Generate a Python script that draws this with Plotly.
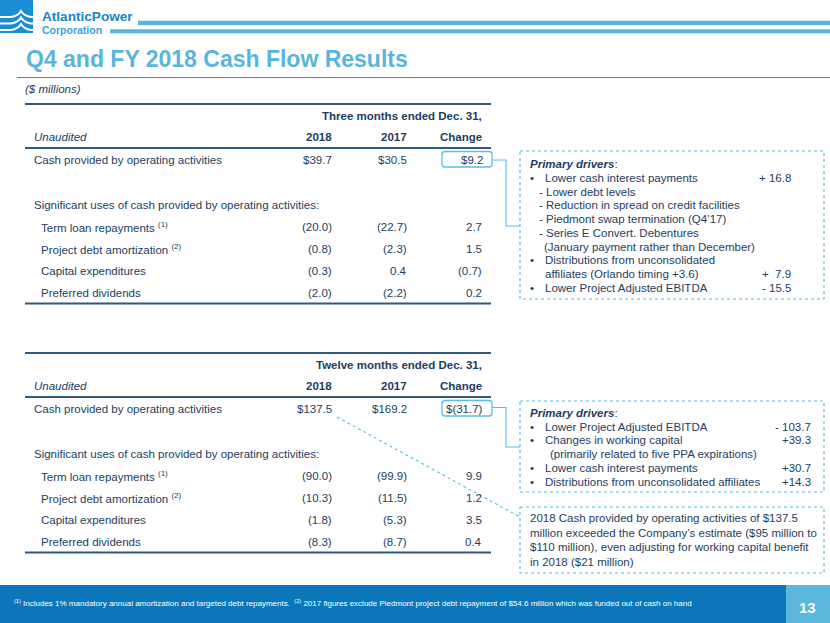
import plotly.graph_objects as go

W, H = 830, 623

# ---------------- data ----------------
company_line1 = "AtlanticPower"
company_line2 = "Corporation"
title = "Q4 and FY 2018 Cash Flow Results"
unit_note = "($ millions)"
page_number = "13"

col_headers = ["2018", "2017", "Change"]
cash_label = "Cash provided by operating activities"
uses_label = "Significant uses of cash provided by operating activities:"
row_labels = ["Term loan repayments", "Project debt amortization", "Capital expenditures", "Preferred dividends"]
row_notes = ["(1)", "(2)", "", ""]

q4_header = "Three months ended Dec. 31,"
q4_cash = [39.7, 30.5, 9.2]
q4_2018 = [-20.0, -0.8, -0.3, -2.0]
q4_2017 = [-22.7, -2.3, 0.4, -2.2]
q4_change = [2.7, 1.5, -0.7, 0.2]

fy_header = "Twelve months ended Dec. 31,"
fy_cash = [137.5, 169.2, -31.7]
fy_2018 = [-90.0, -10.3, -1.8, -8.3]
fy_2017 = [-99.9, -11.5, -5.3, -8.7]
fy_change = [9.9, 1.2, 3.5, 0.4]

q4_driver_text = [
    "Lower cash interest payments",
    "- Lower debt levels",
    "- Reduction in spread on credit facilities",
    "- Piedmont swap termination (Q4’17)",
    "- Series E Convert. Debentures",
    "(January payment rather than December)",
    "Distributions from unconsolidated",
    "affiliates (Orlando timing +3.6)",
    "Lower Project Adjusted EBITDA",
]
q4_driver_kind = ["bullet", "sub", "sub", "sub", "sub", "subcont", "bullet", "cont", "bullet"]
q4_driver_value = ["+ 16.8", "", "", "", "", "", "", "+  7.9", "- 15.5"]

fy_driver_text = [
    "Lower Project Adjusted EBITDA",
    "Changes in working capital",
    "(primarily related to five PPA expirations)",
    "Lower cash interest payments",
    "Distributions from unconsolidated affiliates",
]
fy_driver_kind = ["bullet", "bullet", "cont2", "bullet", "bullet"]
fy_driver_value = ["- 103.7", "+39.3", "", "+30.7", "+14.3"]

fy_note_lines = [
    "2018 Cash provided by operating activities of $137.5",
    "million exceeded the Company’s estimate ($95 million to",
    "$110 million), even adjusting for working capital benefit",
    "in 2018 ($21 million)",
]

footnote = ("<sup>(1)</sup> Includes 1% mandatory annual amortization and targeted debt repayments.  "
            "<sup>(2)</sup> 2017 figures exclude Piedmont project debt repayment of $54.6 million "
            "which was funded out of cash on hand")

# ---------------- style ----------------
FONT = "Liberation Sans, Arial, sans-serif"
TXT = "#1d3d5e"
RULE = "#2f5a7e"
LIGHT = "#5bbde5"
TITLE_C = "#5ab5dc"

fig = go.Figure()
fig.add_trace(go.Scatter(x=[0, W], y=[0, H], mode="markers", marker=dict(opacity=0), hoverinfo="skip", showlegend=False))

ann = []
shapes = []


def text(x, y, s, size=11.5, color=TXT, anchor="left", bold=False, italic=False, family=FONT):
    if italic:
        s = f"<i>{s}</i>"
    if bold:
        s = f"<b>{s}</b>"
    ann.append(dict(x=x, y=y, xref="x", yref="y", text=s, showarrow=False, xanchor=anchor,
                    yanchor="middle", font=dict(family=family, size=size, color=color), borderpad=0))


def line(x0, y0, x1, y1, color, width, dash="solid"):
    shapes.append(dict(type="line", xref="x", yref="y", x0=x0, y0=y0, x1=x1, y1=y1,
                       line=dict(color=color, width=width, dash=dash)))


def rect(x0, y0, x1, y1, fill, linec=None, width=0, dash="solid"):
    shapes.append(dict(type="rect", xref="x", yref="y", x0=x0, y0=y0, x1=x1, y1=y1, fillcolor=fill,
                       line=dict(color=linec if linec else fill, width=width, dash=dash), layer="below"))


def rrect(x0, y0, x1, y1, r, color):
    p = (f"M{x0+r},{y0} L{x1-r},{y0} Q{x1},{y0} {x1},{y0+r} L{x1},{y1-r} Q{x1},{y1} {x1-r},{y1} "
         f"L{x0+r},{y1} Q{x0},{y1} {x0},{y1-r} L{x0},{y0+r} Q{x0},{y0} {x0+r},{y0} Z")
    shapes.append(dict(type="path", xref="x", yref="y", path=p, line=dict(color=color, width=1.3)))


def path(p, color, width):
    shapes.append(dict(type="path", xref="x", yref="y", path=p, line=dict(color=color, width=width)))


def fmt(v, dollar=False):
    s = f"{abs(v):.1f}"
    if v < 0:
        s = f"({s})"
    if dollar:
        s = "$" + s
    return s


# ---------------- header / logo ----------------
rect(0, 0, 33, 33, "#1b8dd3")
for yy in (16, 22.5, 29):
    path(f"M-1,{yy+1} L11,{yy+1} Q18,{yy} 21,{yy-5} Q24,{yy} 31,{yy+1} L34,{yy+1}", "white", 2.0)
text(41, 16.5, company_line1, size=13.6, color="#1a84c6", bold=True)
text(41, 29.5, company_line2, size=10.5, color="#38a4dd", bold=True)
line(138, 23, W, 23, TITLE_C, 4.5)
line(110, 31.3, W, 31.3, TITLE_C, 4)

text(25, 59, title, size=23, color=TITLE_C, bold=True)
line(17, 77.5, W, 77.5, "#5d7f98", 1.2)
text(24, 89, unit_note, size=11.5, italic=True)

# ---------------- tables ----------------
cols_x = [333, 408, 483]


def table(top, header, cash, v18, v17, vch):
    line(25, top, 491, top, RULE, 2)
    text(483, top + 11.5, header, anchor="right", bold=True)
    text(33, top + 33, "Unaudited", italic=True)
    for cx, h in zip(cols_x, col_headers):
        text(cx, top + 33, h, anchor="right", bold=True)
    line(25, top + 44, 491, top + 44, RULE, 2)
    yc = top + 55.5
    text(33, yc, cash_label)
    for i, (cx, v) in enumerate(zip(cols_x, cash)):
        text(cx + (1 if i == 2 else 0), yc, fmt(v, dollar=True), anchor="right")
    rrect(442, yc - 8, 492, yc + 7.5, 3, LIGHT)
    text(33, top + 101, uses_label)
    for j, lab in enumerate(row_labels):
        yy = top + 123 + 22 * j
        lbl = lab + (f" <sup>{row_notes[j]}</sup>" if row_notes[j] else "")
        text(39.5, yy, lbl)
        for cx, vals in zip(cols_x, (v18, v17, vch)):
            text(cx, yy, fmt(vals[j]), anchor="right")
    line(25, top + 199.5, 491, top + 199.5, RULE, 2)
    return yc


yc1 = table(104, q4_header, q4_cash, q4_2018, q4_2017, q4_change)
yc2 = table(353, fy_header, fy_cash, fy_2018, fy_2017, fy_change)

# ---------------- driver boxes ----------------
BOX_L, BOX_R = 520, 824
rect(BOX_L, 151, BOX_R, 299, "rgba(0,0,0,0)", LIGHT, 1.2, "dot")
rect(BOX_L, 401, BOX_R, 492, "rgba(0,0,0,0)", LIGHT, 1.2, "dot")
rect(BOX_L, 507, BOX_R, 573, "rgba(0,0,0,0)", LIGHT, 1.2, "dot")

# connectors
path(f"M492,{yc1 + 0.5} L506,{yc1 + 0.5} L506,226 L{BOX_L},226", LIGHT, 1.1)
path(f"M492,{yc2 - 1} L506,{yc2 - 1} L506,447 L{BOX_L},447", LIGHT, 1.1)
line(337, 417, BOX_L, 517, LIGHT, 1.1, "dot")

indent = {"bullet": 544, "sub": 537.5, "subcont": 543, "cont": 544, "cont2": 549}


def drivers(y0, step, texts, kinds, values, val_x):
    text(529, y0, "<b><i>Primary drivers</i></b>:", size=11.5)
    for k, (t, kd, v) in enumerate(zip(texts, kinds, values)):
        yy = y0 + step * (k + 1)
        if kd == "bullet":
            text(529, yy, "•", size=11.5)
        text(indent[kd], yy, t, size=11.5)
        if v:
            text(val_x, yy, v, size=11.5, anchor="right")


drivers(164, 13.75, q4_driver_text, q4_driver_kind, q4_driver_value, 792)
drivers(413, 13.7, fy_driver_text, fy_driver_kind, fy_driver_value, 812)

for k, t in enumerate(fy_note_lines):
    text(529, 518 + 14.6 * k, t, size=11.5)

# ---------------- footer ----------------
rect(0, 585, 786, H + 2, "#0b77b8")
rect(786, 585, W + 2, H + 2, "#5bb8dc")
text(13, 603, footnote, size=8.0, color="white")
text(807.5, 607, page_number, size=15, color="white", anchor="center", bold=True)

fig.update_layout(
    width=W, height=H, margin=dict(l=0, r=0, t=0, b=0),
    paper_bgcolor="white", plot_bgcolor="white",
    xaxis=dict(range=[0, W], visible=False, fixedrange=True),
    yaxis=dict(range=[H, 0], visible=False, fixedrange=True),
    annotations=ann, shapes=shapes, showlegend=False, hovermode=False,
)

fig.write_html("out.html", config={"displayModeBar": False, "staticPlot": True},
               post_script="document.body.style.margin='0px';document.body.style.overflow='hidden';")
